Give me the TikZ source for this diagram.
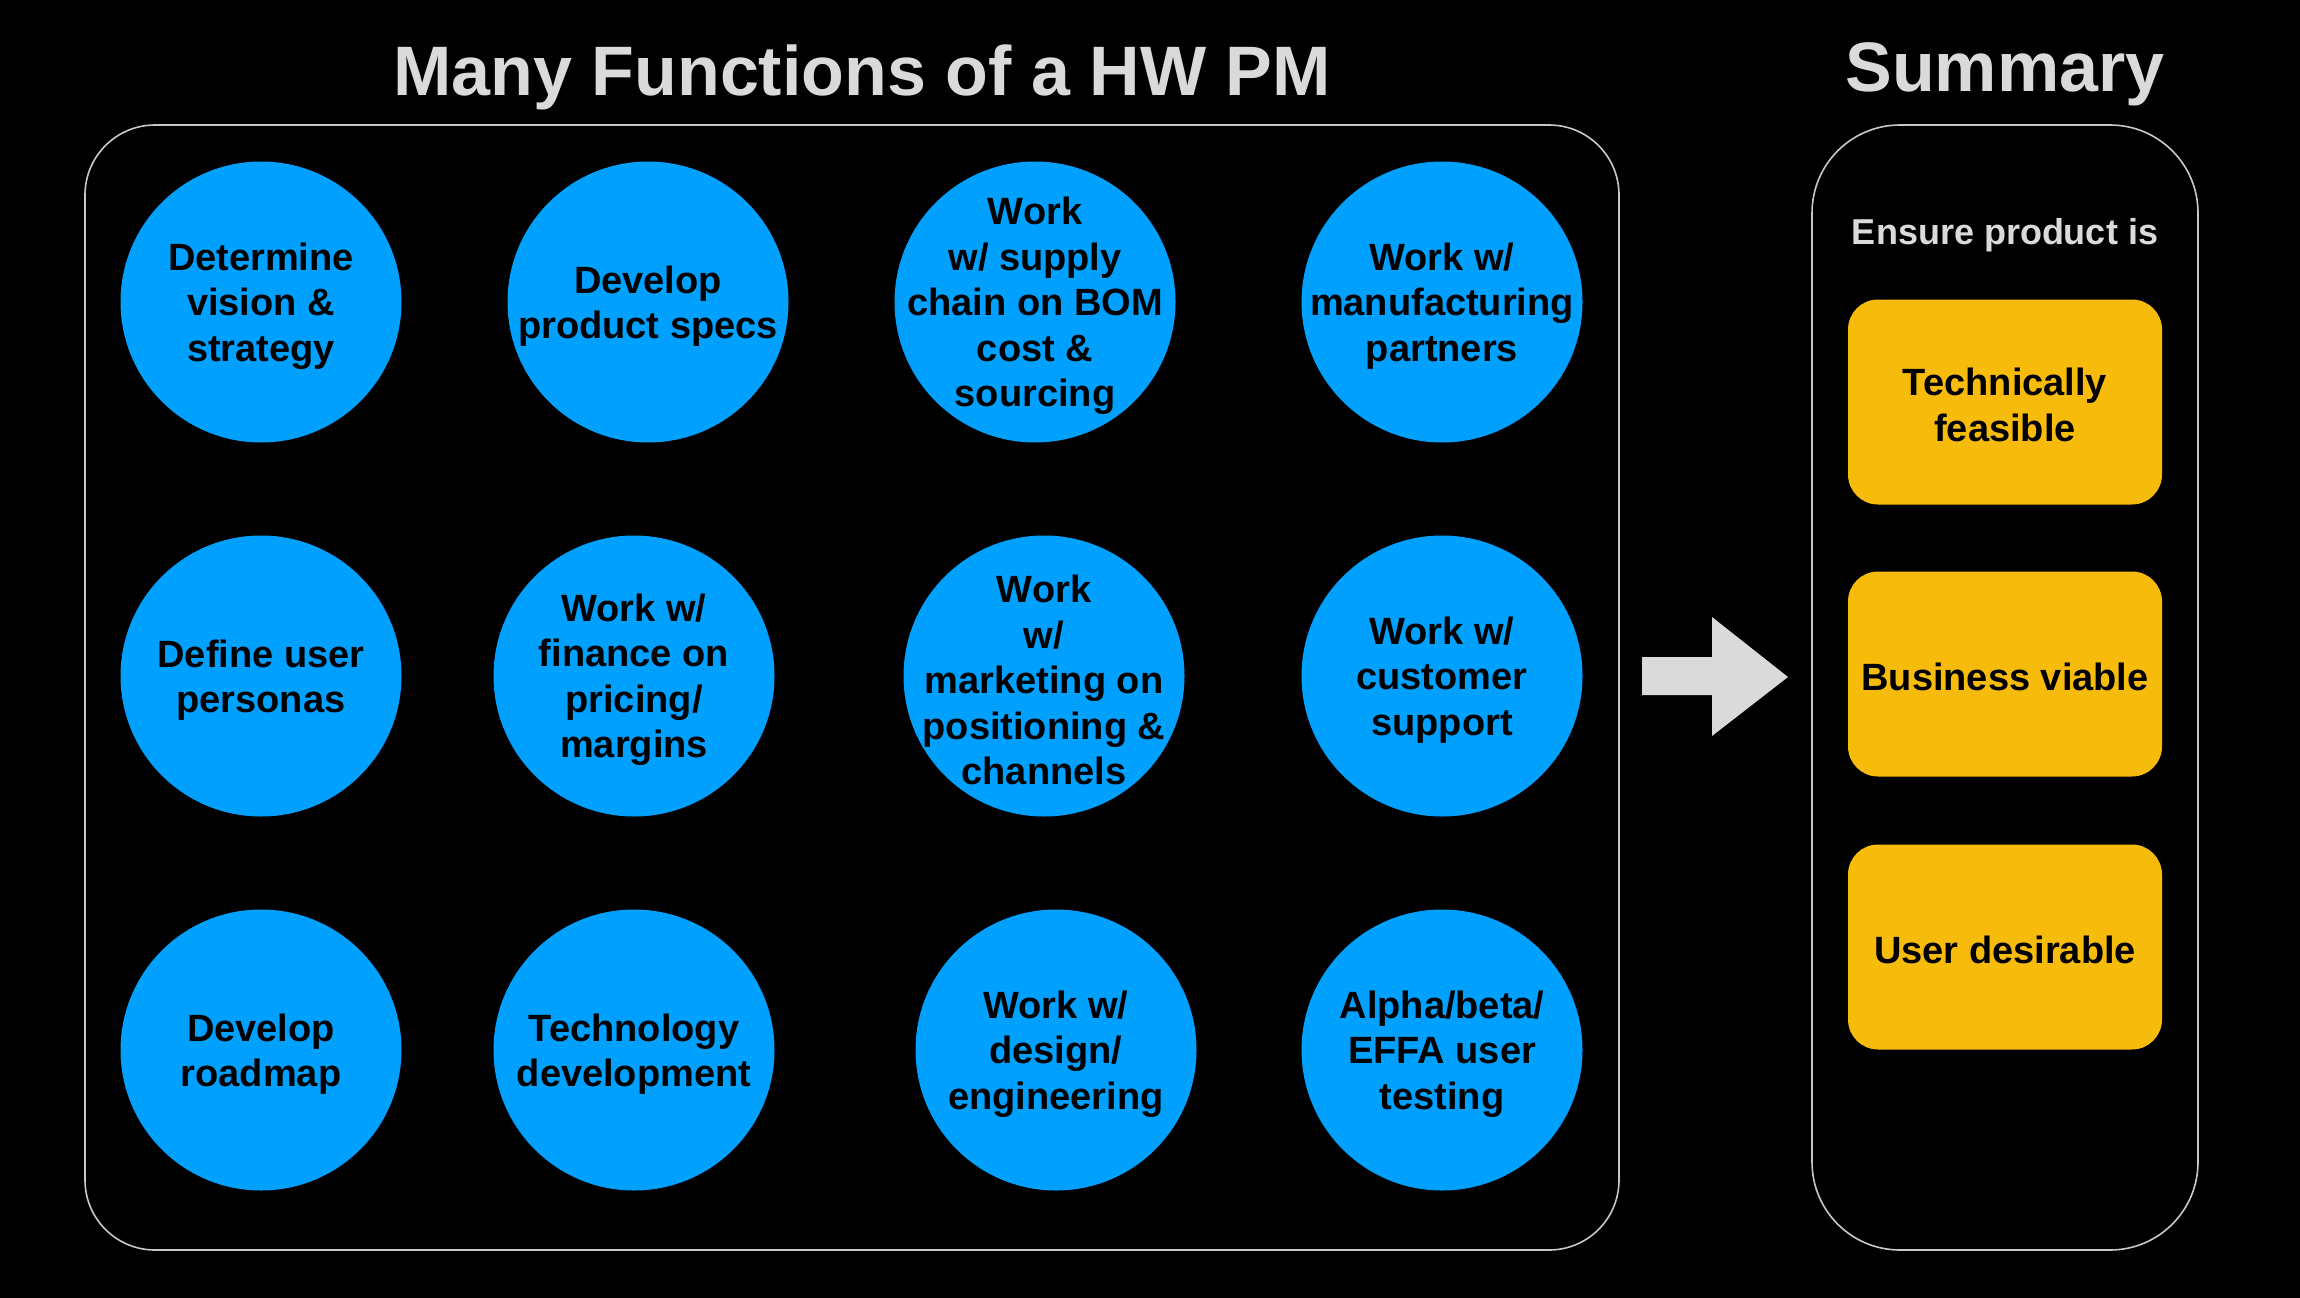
\documentclass[tikz,border=0pt]{standalone}
\usepackage{fontspec}
\setmainfont{Liberation Sans}
\definecolor{bgblack}{HTML}{000000}
\definecolor{circblue}{HTML}{00A0FF}
\definecolor{boxyellow}{HTML}{F7BB0B}
\definecolor{titlegray}{HTML}{DADADA}
\definecolor{framegray}{HTML}{C8C8C8}
\begin{document}
\begin{tikzpicture}[x=1pt,y=-1pt,
  func/.style={circle, fill=circblue, minimum size=281pt, inner sep=0pt},
  functext/.style={align=center, inner sep=0pt, yshift=-4pt,
    font=\fontsize{38}{45.5}\selectfont\bfseries, text=black},
  goal/.style={rectangle, rounded corners=30pt, fill=boxyellow, minimum width=314pt,
    minimum height=205pt, inner sep=0pt},
  goaltext/.style={align=center, inner sep=0pt, yshift=-3pt,
    font=\fontsize{38}{45.5}\selectfont\bfseries, text=black},
  frame/.style={rectangle, draw=framegray, line width=1.6pt, inner sep=0pt},
  bigtitle/.style={font=\fontsize{70}{84}\selectfont\bfseries, text=titlegray, inner sep=0pt},
  subtitle/.style={font=\fontsize{36}{43}\selectfont\bfseries, text=titlegray, inner sep=0pt}]
\fill[bgblack] (0,0) rectangle (2300,1298);
\useasboundingbox (0,0) rectangle (2300,1298);

% titles
\node[bigtitle] (title) at (862,77) {Many Functions of a HW PM};
\node[bigtitle] (sumtitle) at (2005,74) {Summary};

% frames
\node[frame, rounded corners=70pt, minimum width=1534pt, minimum height=1125pt] (leftframe) at (852,687.5) {};
\node[frame, rounded corners=88pt, minimum width=386pt, minimum height=1125pt] (rightframe) at (2005,687.5) {};

% row 1
\node[func, label={[functext]center:{Determine\\vision \&\\strategy}}] (c11) at (261,302) {};
\node[func, label={[functext]center:{Develop\\product specs}}] (c12) at (648,302) {};
\node[func, label={[functext]center:{Work\\w/ supply\\chain on BOM\\cost \&\\sourcing}}] (c13) at (1035,302) {};
\node[func, label={[functext]center:{Work w/\\manufacturing\\partners}}] (c14) at (1442,302) {};
% row 2
\node[func, label={[functext]center:{Define user\\personas}}] (c21) at (261,676) {};
\node[func, label={[functext]center:{Work w/\\finance on\\pricing/\\margins}}] (c22) at (634,676) {};
\node[func, label={[functext]center:{Work\\w/\\marketing on\\positioning \&\\channels}}] (c23) at (1044,676) {};
\node[func, label={[functext]center:{Work w/\\customer\\support}}] (c24) at (1442,676) {};
% row 3
\node[func, label={[functext]center:{Develop\\roadmap}}] (c31) at (261,1050) {};
\node[func, label={[functext]center:{Technology\\development}}] (c32) at (634,1050) {};
\node[func, label={[functext]center:{Work w/\\design/\\engineering}}] (c33) at (1056,1050) {};
\node[func, label={[functext]center:{Alpha/beta/\\EFFA user\\testing}}] (c34) at (1442,1050) {};

% summary
\node[subtitle] (ensure) at (2005,235) {Ensure product is};
\node[goal, label={[goaltext]center:{Technically\\feasible}}] (g1) at (2005,402) {};
\node[goal, label={[goaltext]center:{Business viable}}] (g2) at (2005,674) {};
\node[goal, label={[goaltext]center:{User desirable}}] (g3) at (2005,947) {};

% block arrow
\fill[titlegray] (1642,657) -- (1712,657) -- (1712,617) -- (1788,677) -- (1712,736)
  -- (1712,695) -- (1642,695) -- cycle;
\end{tikzpicture}
\end{document}
